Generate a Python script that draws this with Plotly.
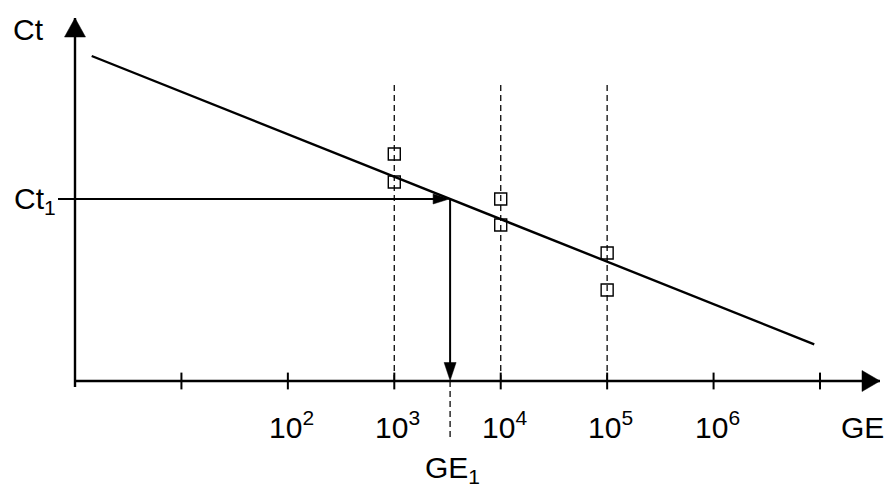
import math
import plotly.graph_objects as go

# Standard curve: threshold cycle (Ct) against genome equivalents (GE, log scale)
standard_ge = [1e3, 1e3, 1e4, 1e4, 1e5, 1e5]
standard_ct = [22.7, 19.9, 18.2, 15.6, 12.8, 9.1]

# Regression line end points
fit_ge = [10 ** 0.157, 10 ** 6.946]
fit_ct = [32.5, 3.67]

# Measured sample
ct1 = 18.2

# Axis decoration
tick_exponents = [1, 2, 3, 4, 5, 6, 7]
tick_labels = ["", "10<sup>2</sup>", "10<sup>3</sup>", "10<sup>4</sup>",
               "10<sup>5</sup>", "10<sup>6</sup>", ""]
guide_ge = [1e3, 1e4, 1e5]
guide_top_ct = 30.0

# Sample GE
slope = (fit_ct[1] - fit_ct[0]) / (math.log10(fit_ge[1]) - math.log10(fit_ge[0]))
ge1 = 10 ** (math.log10(fit_ge[0]) + (ct1 - fit_ct[0]) / slope)

W, H = 890, 487
X_PER_DECADE = 106.43
Y_PER_UNIT = 10.0
X0_PX, Y0_PX = 75, 381
x_range = [-X0_PX / X_PER_DECADE, (W - X0_PX) / X_PER_DECADE]
y_range = [-(H - Y0_PX) / Y_PER_UNIT, Y0_PX / Y_PER_UNIT]

FONT = "Liberation Sans, Arial, sans-serif"
FS = 30
BLACK = "#000000"
DASH = dict(color="#1a1a1a", width=1.4, dash="6px,4px")


def px_x(dx):
    return dx / X_PER_DECADE


def px_y(dy):
    return dy / Y_PER_UNIT


x_end = 10 ** (x_range[1] - px_x(10))
y_end = y_range[1] - px_y(18)

fig = go.Figure()


def add_line(xs, ys, line):
    fig.add_trace(go.Scatter(x=xs, y=ys, mode="lines", line=line,
                             hoverinfo="skip", showlegend=False))


# dashed guides at the standard dilutions
for g in guide_ge:
    add_line([g, g], [0, guide_top_ct], DASH)

# dashed guide below the axis at GE1
add_line([ge1, ge1], [0, -px_y(60)], DASH)

# regression line
add_line(fit_ge, fit_ct, dict(color=BLACK, width=2.4))

# axes
add_line([1, x_end], [0, 0], dict(color=BLACK, width=2.4))
add_line([1, 1], [-px_y(6), y_end], dict(color=BLACK, width=2.4))

# tick marks
fig.add_trace(go.Scatter(
    x=[10 ** e for e in tick_exponents], y=[0] * len(tick_exponents),
    mode="markers",
    marker=dict(symbol="line-ns", size=12, line=dict(color=BLACK, width=2)),
    hoverinfo="skip", showlegend=False))

# Ct1 -> line -> GE1 reading arrows
add_line([10 ** (-px_x(17)), 10 ** (math.log10(ge1) - px_x(14))], [ct1, ct1],
         dict(color=BLACK, width=2))
add_line([ge1, ge1], [ct1, px_y(16)], dict(color=BLACK, width=2))

# standard points
fig.add_trace(go.Scatter(
    x=standard_ge, y=standard_ct, mode="markers",
    marker=dict(symbol="square-open", size=12, color=BLACK,
                line=dict(color=BLACK, width=1.4)),
    hoverinfo="skip", showlegend=False))


# arrowheads (pixel-sized paths anchored in data coordinates)
def head(xa, ya, path):
    fig.add_shape(type="path", xref="x", yref="y",
                  xsizemode="pixel", ysizemode="pixel",
                  xanchor=xa, yanchor=ya, path=path,
                  fillcolor=BLACK, line=dict(color=BLACK, width=0.5),
                  layer="above")


head(x_end, 0, "M 0 0 L -18 10.5 L -18 -10.5 Z")
head(1, y_end, "M 0 0 L -10.5 -19 L 10.5 -19 Z")
head(10 ** (math.log10(ge1) - px_x(1)), ct1, "M 0 0 L -16 5 L -16 -5 Z")
head(ge1, px_y(0.5), "M 0 0 L -6 18 L 6 18 Z")

# tick labels
for e, lab in zip(tick_exponents, tick_labels):
    if lab:
        fig.add_annotation(x=e, y=-px_y(44), text=lab, showarrow=False,
                           xanchor="left", xshift=-21, yanchor="middle",
                           font=dict(family=FONT, size=FS, color=BLACK))


def label(xl, yl, text, xanchor="center"):
    fig.add_annotation(x=xl, y=yl, text=text, showarrow=False,
                       xanchor=xanchor, yanchor="middle",
                       font=dict(family=FONT, size=FS, color=BLACK))


label(math.log10(x_end) - px_x(18), -px_y(46), "GE")
label(math.log10(ge1) + px_x(2), -px_y(88), "GE<sub>1</sub>")
label(-px_x(47), y_range[1] - px_y(29), "Ct")
label(-px_x(40), ct1 + px_y(-1), "Ct<sub>1</sub>")

fig.update_layout(
    width=W, height=H,
    margin=dict(l=0, r=0, t=0, b=0),
    paper_bgcolor="white", plot_bgcolor="white",
    xaxis=dict(type="log", range=x_range, visible=False, fixedrange=True),
    yaxis=dict(range=y_range, visible=False, fixedrange=True),
    showlegend=False,
)

fig.write_html("out.html")
